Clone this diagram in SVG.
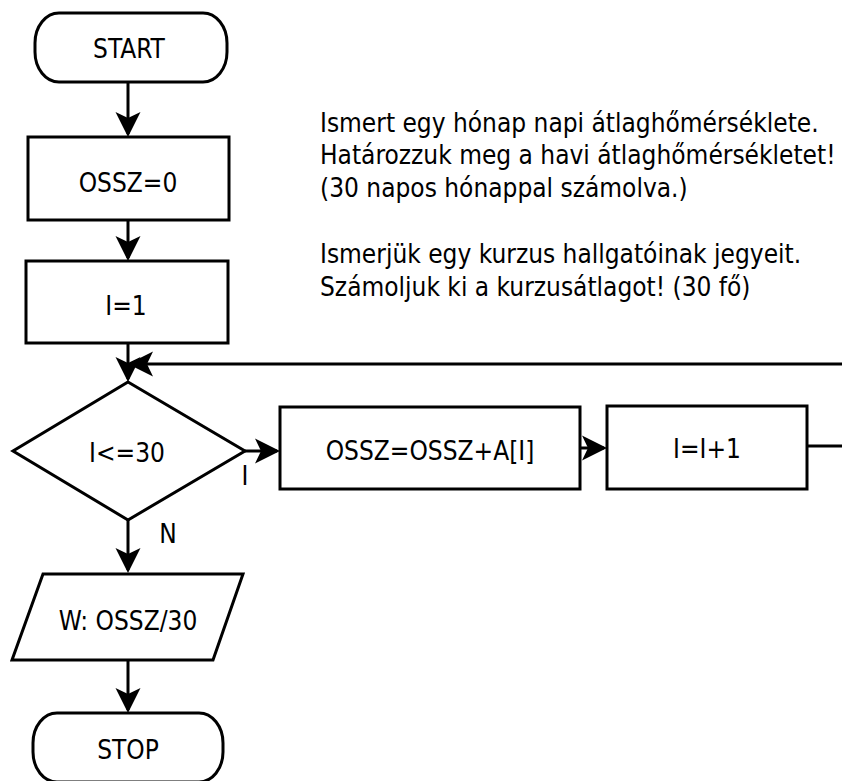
<svg xmlns="http://www.w3.org/2000/svg" width="842" height="781" viewBox="0 0 842 781">
  <defs>
    <style>
      .shape { fill: #ffffff; stroke: #000000; stroke-width: 3; }
      .wire { fill: none; stroke: #000000; stroke-width: 3; }
      .lbl { font-family: "DejaVu Sans Condensed", "DejaVu Sans", sans-serif; font-stretch: condensed; font-size: 26px; fill: #000000; }
      .mid { text-anchor: middle; }
    </style>
    <!-- notched arrowhead, tip at x=26 -->
    <marker id="head" markerUnits="userSpaceOnUse" viewBox="0 0 26 26" markerWidth="26" markerHeight="26" refX="23" refY="13" orient="auto">
      <path d="M26,13 L1,0.5 L7,13 L1,25.5 Z" fill="#000000"/>
    </marker>
  </defs>

  <rect width="842" height="781" fill="#ffffff"/>

  <!-- connectors -->
  <g id="connectors">
    <path class="wire" d="M128,82 V134" marker-end="url(#head)"/>
    <path class="wire" d="M128,220 V258" marker-end="url(#head)"/>
    <path class="wire" d="M128,343 V379" marker-end="url(#head)"/>
    <path class="wire" d="M807,446 H870 V364 H131" marker-end="url(#head)"/>
    <path class="wire" d="M245,451 H277" marker-end="url(#head)"/>
    <path class="wire" d="M580,448 H604" marker-end="url(#head)"/>
    <path class="wire" d="M128,520 V570" marker-end="url(#head)"/>
    <path class="wire" d="M128,660 V710" marker-end="url(#head)"/>
    <text class="lbl mid" x="245" y="485">I</text>
    <text class="lbl mid" x="168" y="543">N</text>
  </g>

  <g id="start">
    <rect class="shape" x="35" y="13" width="192" height="69" rx="24" ry="30"/>
    <text class="lbl mid" x="129" y="58">START</text>
  </g>

  <g id="init-sum">
    <rect class="shape" x="28" y="137" width="201" height="83"/>
    <text class="lbl mid" x="128" y="192">OSSZ=0</text>
  </g>

  <g id="init-index">
    <rect class="shape" x="26" y="261" width="202" height="82"/>
    <text class="lbl mid" x="126" y="315">I=1</text>
  </g>

  <g id="condition">
    <polygon class="shape" points="128,382 245,451 128,520 13,451"/>
    <text class="lbl mid" x="127" y="462">I&lt;=30</text>
  </g>

  <g id="accumulate">
    <rect class="shape" x="280" y="407" width="300" height="82"/>
    <text class="lbl mid" x="430" y="460">OSSZ=OSSZ+A[I]</text>
  </g>

  <g id="increment">
    <rect class="shape" x="607" y="406" width="200" height="83"/>
    <text class="lbl mid" x="707" y="458">I=I+1</text>
  </g>

  <g id="output">
    <polygon class="shape" points="43,574 243,574 213,660 12,660"/>
    <text class="lbl mid" x="128" y="630">W: OSSZ/30</text>
  </g>

  <g id="stop">
    <rect class="shape" x="33" y="713" width="190" height="69" rx="24" ry="30"/>
    <text class="lbl mid" x="128" y="759">STOP</text>
  </g>

  <g id="description">
    <text class="lbl" x="320" y="132">Ismert egy hónap napi átlaghőmérséklete.</text>
    <text class="lbl" x="320" y="164">Határozzuk meg a havi átlaghőmérsékletet!</text>
    <text class="lbl" x="320" y="197">(30 napos hónappal számolva.)</text>
    <text class="lbl" x="320" y="263">Ismerjük egy kurzus hallgatóinak jegyeit.</text>
    <text class="lbl" x="320" y="296">Számoljuk ki a kurzusátlagot! (30 fő)</text>
  </g>
</svg>
